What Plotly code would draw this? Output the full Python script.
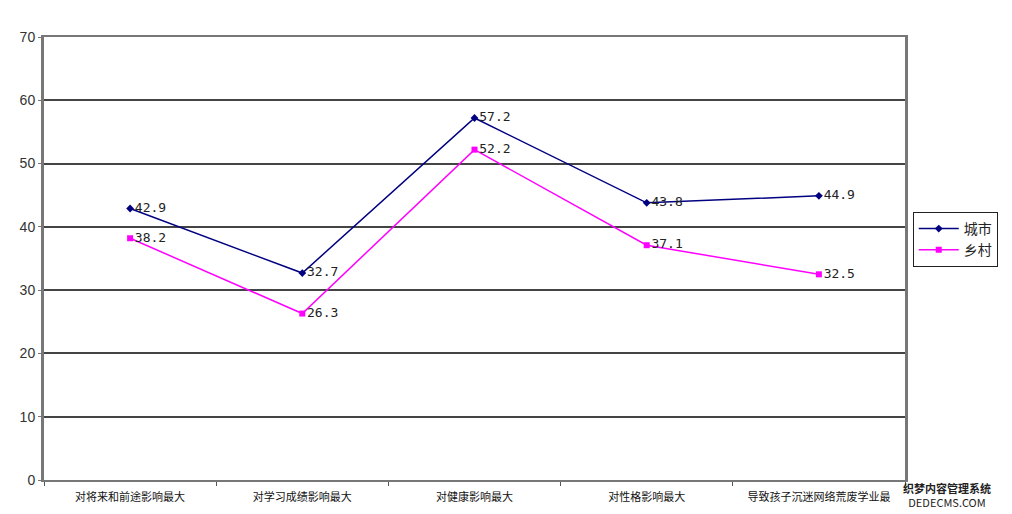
import plotly.graph_objects as go

categories = ["对将来和前途影响最大", "对学习成绩影响最大", "对健康影响最大", "对性格影响最大", "导致孩子沉迷网络荒废学业最"]
city = [42.9, 32.7, 57.2, 43.8, 44.9]
rural = [38.2, 26.3, 52.2, 37.1, 32.5]
y_ticks = [0, 10, 20, 30, 40, 50, 60, 70]

label_font = dict(family="DejaVu Sans Mono", size=13, color="#222")

fig = go.Figure()
fig.add_trace(go.Scatter(
    x=categories, y=city, name="城市", mode="lines+markers+text",
    line=dict(color="#000080", width=1.5),
    marker=dict(symbol="diamond", size=6, color="#000080"),
    text=[str(v) for v in city], textposition="middle right", textfont=label_font,
))
fig.add_trace(go.Scatter(
    x=categories, y=rural, name="乡村", mode="lines+markers+text",
    line=dict(color="#FF00FF", width=1.5),
    marker=dict(symbol="square", size=6, color="#FF00FF"),
    text=[str(v) for v in rural], textposition="middle right", textfont=label_font,
))

fig.update_layout(
    width=1012, height=514,
    margin=dict(l=34, r=115, t=29, b=42),
    paper_bgcolor="white", plot_bgcolor="white",
    font=dict(family="Noto Sans CJK SC", color="#222"),
    showlegend=True,
    legend=dict(x=1.009, y=0.605, xanchor="left", yanchor="top",
                bordercolor="#222", borderwidth=1, bgcolor="white",
                font=dict(size=14, color="#222"), tracegroupgap=0,
                itemwidth=40),
    xaxis=dict(
        range=[-0.5, 4.5], showgrid=False, ticks="outside", ticklen=4,
        tickson="boundaries", tickcolor="#555", ticklabelstandoff=6,
        showline=True, linecolor="#777", linewidth=2, mirror=True,
        tickfont=dict(size=11, color="#111"),
    ),
    yaxis=dict(
        range=[0, 70], tickvals=y_ticks, showgrid=True, gridcolor="#444", gridwidth=2,
        showline=True, linecolor="#777", linewidth=3, mirror=True,
        ticks="outside", ticklen=3, tickcolor="#777", zeroline=False,
        tickfont=dict(family="Liberation Sans", size=14, color="#333"),
    ),
)
fig.add_annotation(text="<b>织梦内容管理系统</b><br>DEDECMS.COM", xref="paper", yref="paper",
                   x=0.995, y=0.005, xanchor="left", yanchor="top", showarrow=False,
                   align="center", font=dict(size=11, color="#222"))

fig.write_html("out.html")
